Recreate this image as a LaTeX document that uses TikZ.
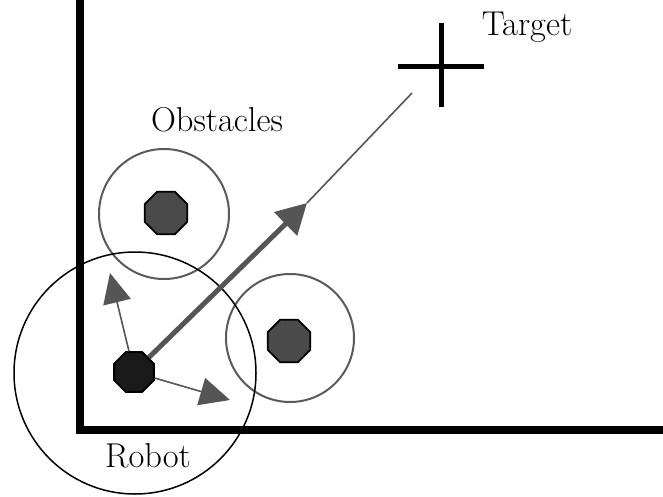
\documentclass[tikz,border=0pt]{standalone}
\usetikzlibrary{shapes.geometric,arrows.meta}
\definecolor{arrgray}{RGB}{85,85,85}
\definecolor{obsfill}{RGB}{74,74,74}
\definecolor{robfill}{RGB}{26,26,26}
\definecolor{ringgray}{RGB}{90,90,90}
\begin{document}
\begin{tikzpicture}[x=1pt,y=-1pt,
  axis/.style={line width=8pt,line cap=rect},
  octo/.style={regular polygon,regular polygon sides=8,minimum size=46pt,inner sep=0pt,draw=black,line width=1.8pt},
  ring/.style={draw=ringgray,line width=2pt},
  robring/.style={draw=black,line width=1.5pt},
  lbl/.style={font=\fontsize{34.5}{40}\selectfont,anchor=base},
  smallarr/.style={draw=arrgray,line width=1.6pt,-{Triangle[length=30pt,width=28pt]},arrgray},
  bigarr/.style={draw=arrgray,line width=5pt,-{Triangle[length=30pt,width=32pt]},arrgray},
  thinline/.style={draw=arrgray,line width=1.6pt}]
\useasboundingbox (0,0) rectangle (663,497);
\fill[white] (0,0) rectangle (663,497);
% axes
\coordinate (ytop) at (79.5,-5);
\coordinate (origin) at (79.5,430);
\coordinate (xend) at (670,430);
\draw[axis] (ytop) -- (origin) -- (xend);
% target cross
\coordinate (tc) at (441,67);
\coordinate (tl) at (398,67);
\coordinate (tr) at (484,67);
\coordinate (tt) at (441,23);
\coordinate (tb) at (441,107);
\draw[line width=5pt] (tl) -- (tr);
\draw[line width=5pt] (tt) -- (tb);
\node[lbl] (tlabel) at (527,36) {Target};
% obstacles
\node[octo,fill=obsfill] (obs1) at (166,213) {};
\node[octo,fill=obsfill] (obs2) at (289,341) {};
\node[circle,ring,minimum size=130pt,inner sep=0pt] (ring1) at (164,214) {};
\node[circle,ring,minimum size=128pt,inner sep=0pt] (ring2) at (290,338) {};
\node[lbl] (olabel) at (217,132) {Obstacles};
% robot
\node[octo,fill=robfill,minimum size=43pt] (robot) at (134,372) {};
\node[circle,robring,minimum size=242pt,inner sep=0pt] (rring) at (135,373) {};
\node[lbl] (rlabel) at (148,467) {Robot};
% arrows
\coordinate (a1) at (110,273);
\coordinate (a2) at (230,400);
\coordinate (mtip) at (307,203);
\coordinate (mend) at (412,93);
\draw[smallarr] (robot) -- (a1);
\draw[smallarr] (robot) -- (a2);
\draw[thinline] (mtip) -- (mend);
\draw[bigarr] (robot) -- (mtip);
\end{tikzpicture}
\end{document}
